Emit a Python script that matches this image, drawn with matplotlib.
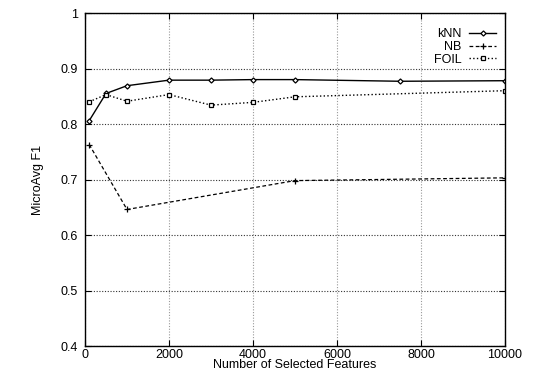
import matplotlib
matplotlib.use("Agg")
import matplotlib.pyplot as plt
from matplotlib.ticker import FormatStrFormatter

plt.rcParams['font.family'] = ['Liberation Sans', 'DejaVu Sans']

knn_x = [100, 500, 1000, 2000, 3000, 4000, 5000, 7500, 10000]
knn_y = [0.806, 0.855, 0.869, 0.879, 0.879, 0.880, 0.880, 0.877, 0.878]

nb_x = [100, 1000, 5000, 10000]
nb_y = [0.763, 0.646, 0.698, 0.703]

foil_x = [100, 500, 1000, 2000, 3000, 4000, 5000, 10000]
foil_y = [0.840, 0.853, 0.841, 0.853, 0.834, 0.839, 0.849, 0.860]

x_ticks = [0, 2000, 4000, 6000, 8000, 10000]
y_ticks = [0.4, 0.5, 0.6, 0.7, 0.8, 0.9, 1.0]

fig = plt.figure(figsize=(5.38, 3.71), dpi=100)
ax = fig.add_axes([85/538, 1-346/371, (505-85)/538, (346-13)/371])

ax.plot(knn_x, knn_y, '-', color='black', lw=1.0, marker='D', ms=2.6,
        mfc='white', mec='black', mew=0.9, label='kNN')
ax.plot(nb_x, nb_y, '--', color='black', lw=0.9, dashes=(3, 2), marker='+', ms=4.5,
        mew=0.9, label='NB')
ax.plot(foil_x, foil_y, ':', color='black', lw=1.0, marker='s', ms=3.5,
        mfc='white', mec='black', mew=0.9, label='FOIL')

ax.set_xlim(0, 10000)
ax.set_ylim(0.4, 1.0)
ax.set_xticks(x_ticks)
ax.set_yticks(y_ticks)
ax.yaxis.set_major_formatter(FormatStrFormatter('%g'))
ax.xaxis.set_major_formatter(FormatStrFormatter('%g'))

ax.xaxis.grid(True, linestyle=(0, (1, 1.5)), color='#999999', lw=0.8)
ax.yaxis.grid(True, linestyle=(0, (1, 1.5)), color='#333333', lw=0.8)

ax.tick_params(direction='in', top=True, right=True, length=4, width=0.8,
               labelsize=9, colors='black')
ax.tick_params(axis='x', pad=2)
ax.tick_params(axis='y', pad=5)
for s in ax.spines.values():
    s.set_linewidth(1.0)

ax.set_xlabel('Number of Selected Features', fontsize=9, labelpad=-1)
ax.set_ylabel('MicroAvg F1', fontsize=9, labelpad=12)

leg = ax.legend(loc='upper right', frameon=False, markerfirst=False, fontsize=9,
                handlelength=2.2, handletextpad=0.6, labelspacing=0.05,
                borderaxespad=0.7, bbox_to_anchor=(1.012, 0.995))

fig.savefig('out.png', dpi=100)
